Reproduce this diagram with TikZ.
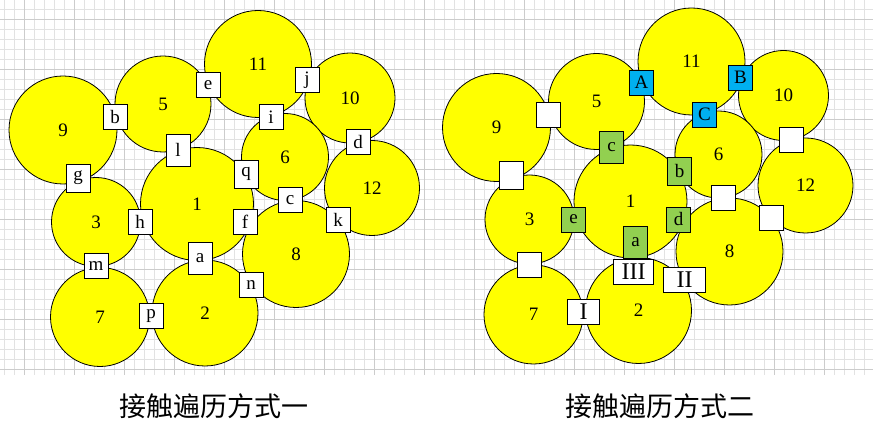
\documentclass[tikz,border=0pt]{standalone}
\usepackage{fontspec}
\setmainfont{Liberation Serif}
\newfontfamily\cjk{Noto Sans CJK SC}
\usetikzlibrary{positioning}
\definecolor{gridminor}{RGB}{226,226,226}
\definecolor{gridmajor}{RGB}{204,204,204}
\definecolor{ballyellow}{RGB}{255,255,0}
\definecolor{touchgreen}{RGB}{146,208,80}
\definecolor{touchblue}{RGB}{0,176,240}

\begin{document}
\begin{tikzpicture}[x=1pt, y=-1pt]
	\tikzstyle{ball} = [draw, line width=0.8pt, fill=ballyellow, circle, inner sep=0pt, font=\fontsize{19}{19}\selectfont]
	\tikzstyle{touch} = [draw, line width=0.9pt, fill=white, minimum width=24pt, minimum height=25pt, inner sep=0pt, font=\fontsize{19}{19}\selectfont]
	\tikzstyle{tall} = [minimum height=32pt]
	\tikzstyle{mid} = [minimum height=28pt]
	\tikzstyle{roman} = [font=\fontsize{24}{24}\selectfont]
	\tikzstyle{caption} = [font=\cjk\fontsize{27}{27}\selectfont]

	\useasboundingbox (0,0) rectangle (873,430);
	\fill[white] (0,0) rectangle (873,430);

	% grid paper
	\foreach \x in {4,14,...,864} \draw[gridminor, line width=0.8pt] (\x,0) -- (\x,375);
	\foreach \y in {9,19,...,369} \draw[gridminor, line width=0.8pt] (0,\y) -- (873,\y);
	\foreach \x in {24,74,...,824} \draw[gridmajor, line width=0.8pt] (\x,0) -- (\x,375);
	\foreach \y in {19,69,...,369} \draw[gridmajor, line width=0.8pt] (0,\y) -- (873,\y);

	% balls, drawn twice
	\foreach \dx/\dy in {0/0, 433.5/-2.5} {
		\begin{scope}[shift={(\dx,\dy)}]
			\path
				node[ball, minimum size=108pt] (9) at (63,130) {9}
				node[ball, minimum size=96pt] (5) at (163,104) {5}
				node[ball, minimum size=107pt] (11) at (258,64) {11}
				node[ball, minimum size=90pt] (10) at (350,98) {10}
				node[ball, minimum size=87pt] (6) at (285,157) {6}
				node[ball, minimum size=95pt] (12) at (372,188) {12}
				node[ball, minimum size=89pt] (3) at (96,222) {3}
				node[ball, minimum size=113pt] (1) at (197,204) {1}
				node[ball, minimum size=107pt] (8) at (296,254) {8}
				node[ball, minimum size=99pt] (7) at (100,317) {7}
				node[ball, minimum size=106pt] (2) at (205,313) {2}
			;
		\end{scope}
	}

	% contacts, first way
	\begin{scope}
		\path
			node[touch] (b) at (115,117) {b}
			node[touch] (e) at (208,85) {e}
			node[touch] (j) at (307,80) {j}
			node[touch] (i) at (271,117) {i}
			node[touch] (d) at (358,142) {d}
			node[touch, tall] (l) at (178,150) {l}
			node[touch, mid] (q) at (246,174) {q}
			node[touch, mid] (g) at (78,178) {g}
			node[touch] (c) at (290,200) {c}
			node[touch] (h) at (140,222) {h}
			node[touch] (f) at (245,222) {f}
			node[touch] (k) at (338,220) {k}
			node[touch, tall] (a) at (200,258) {a}
			node[touch] (m) at (96,266) {m}
			node[touch] (n) at (251,285) {n}
			node[touch] (p) at (151,316) {p}
		;
		\node[caption] (way1) at (214,406) {接触遍历方式一};
	\end{scope}

	% contacts, second way
	\begin{scope}[shift={(433.5,-2.5)}]
		\path
			node[touch] (b) at (115,117) {}
			node[touch, fill=touchblue] (e) at (208,85) {A}
			node[touch, fill=touchblue] (j) at (307,80) {B}
			node[touch, fill=touchblue] (i) at (271,117) {C}
			node[touch] (d) at (358,142) {}
			node[touch, tall, fill=touchgreen] (l) at (178,150) {c}
			node[touch, mid, fill=touchgreen] (q) at (246,174) {b}
			node[touch, mid] (g) at (78,178) {}
			node[touch] (c) at (290,200) {}
			node[touch, fill=touchgreen] (h) at (140,222) {e}
			node[touch, fill=touchgreen] (f) at (245,222) {d}
			node[touch] (k) at (338,220) {}
			node[touch, tall, fill=touchgreen] (a) at (202,245) {a}
			node[touch, roman, minimum width=40pt] (III) at (200,274) {III}
			node[touch, roman, minimum width=42pt] (II) at (251,282) {II}
			node[touch] (m) at (96,267) {}
			node[touch, roman, minimum width=32pt] (I) at (150,314) {I}
		;
		\node[caption] (way2) at (226,408.5) {接触遍历方式二};
	\end{scope}
\end{tikzpicture}
\end{document}
